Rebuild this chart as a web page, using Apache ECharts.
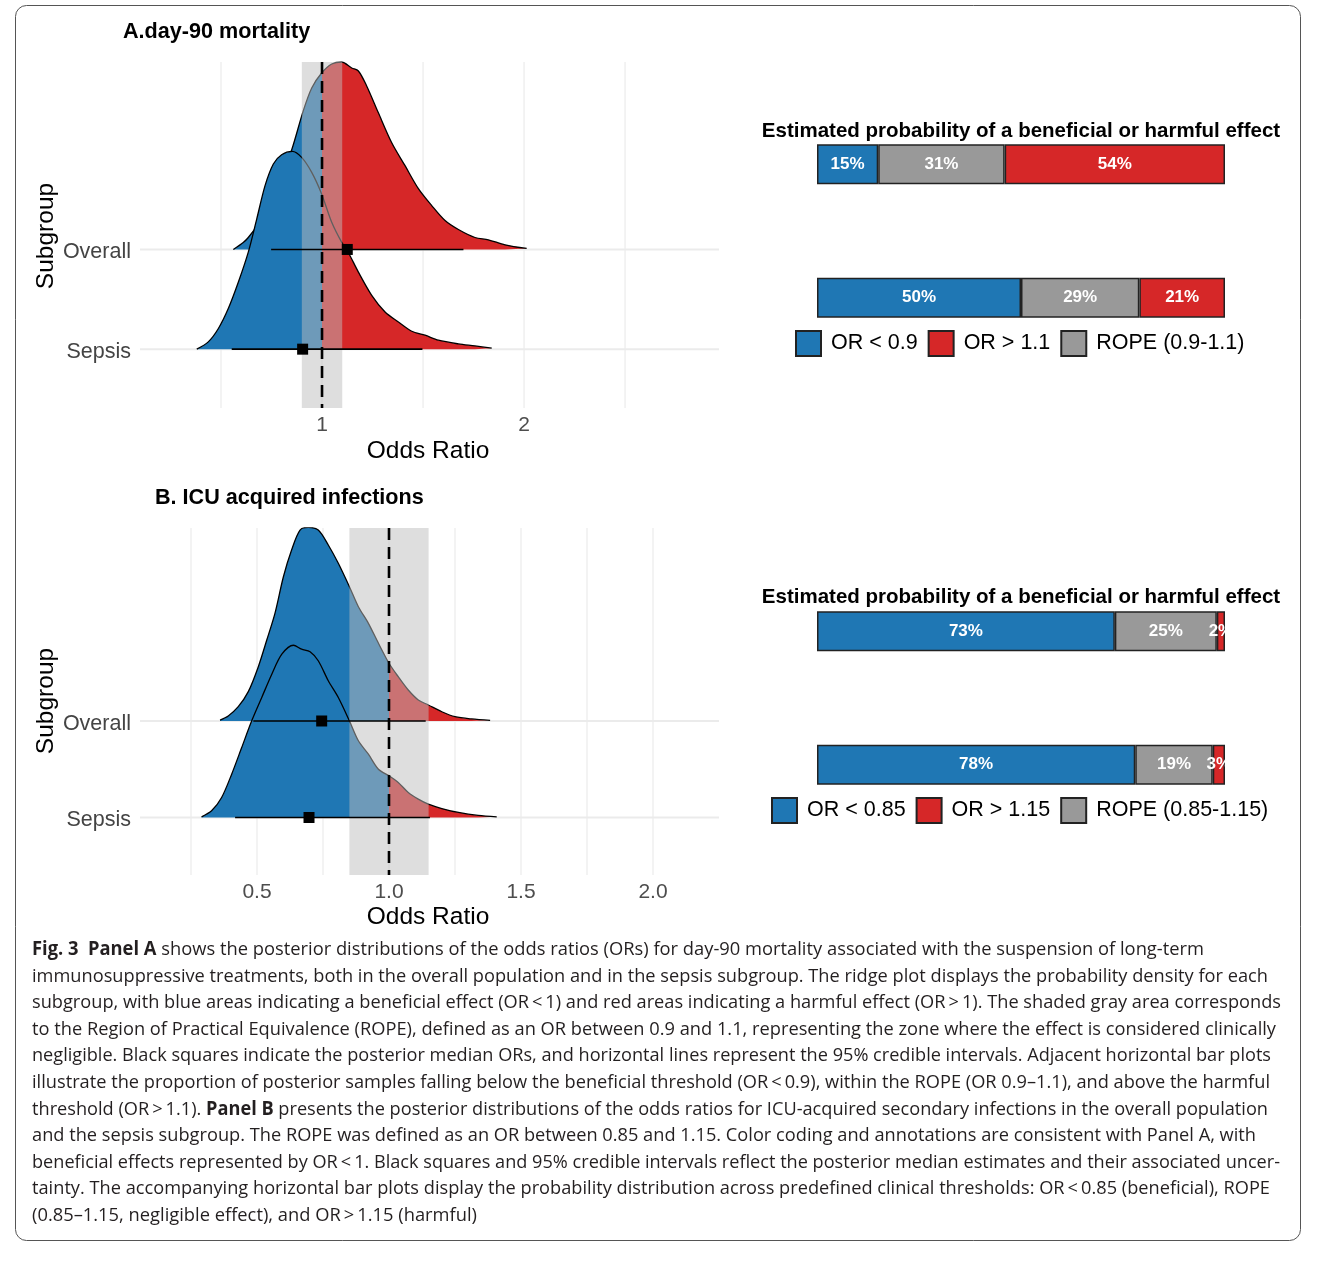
<!DOCTYPE html>
<html>
<head>
<meta charset="utf-8">
<script src="https://cdn.jsdelivr.net/npm/echarts@6/dist/echarts.min.js"></script>
<style>
html,body{margin:0;padding:0;background:#fff;}
#chart{position:absolute;left:0;top:0;width:1326px;height:1262px;}
#caption{position:absolute;left:32px;top:935px;font-family:"Open Sans","Noto Sans",sans-serif;font-size:19px;line-height:26.6px;color:#231f20;}
#caption div{white-space:nowrap;height:26.6px;}
#caption span.ln{display:inline-block;white-space:nowrap;transform-origin:0 0;}
#caption b{font-weight:700;}
</style>
</head>
<body>
<div id="chart"></div>
<div id="caption"></div>
<script>
// ---------------- data ----------------
const subgroups = ['Overall', 'Sepsis'];

// Panel A: day-90 mortality, posterior density of OR (height in ridge units)
const aOverallX = [0.561, 0.610, 0.635, 0.700, 0.750, 0.800, 0.850, 0.907, 0.949, 0.998, 1.048, 1.097, 1.147, 1.180, 1.221, 1.279, 1.345, 1.411, 1.477, 1.543, 1.609, 1.675, 1.757, 1.823, 1.906, 2.013];
const aOverallH = [0.00, 0.07, 0.12, 0.30, 0.50, 0.74, 1.00, 1.39, 1.62, 1.77, 1.86, 1.88, 1.82, 1.79, 1.64, 1.37, 1.07, 0.84, 0.61, 0.44, 0.29, 0.20, 0.12, 0.097, 0.047, 0.01];
const aSepsisX = [0.380, 0.437, 0.487, 0.536, 0.586, 0.635, 0.677, 0.718, 0.759, 0.800, 0.853, 0.899, 0.949, 0.998, 1.048, 1.097, 1.130, 1.180, 1.246, 1.312, 1.378, 1.444, 1.510, 1.576, 1.675, 1.757, 1.840];
const aSepsisH = [0.00, 0.073, 0.207, 0.407, 0.673, 0.973, 1.307, 1.64, 1.857, 1.95, 1.983, 1.923, 1.773, 1.557, 1.273, 1.073, 0.97, 0.773, 0.54, 0.373, 0.273, 0.18, 0.14, 0.09, 0.053, 0.033, 0.01];
const aCiLower = [0.748, 0.553];
const aCiMedian = [1.125, 0.904];
const aCiUpper = [1.700, 1.497];
const aRope = [0.9, 1.1];
const aTicks = [1, 2];
const aGrid = [0.5, 1, 1.5, 2, 2.5];
const aBelow = [15, 50];
const aInRope = [31, 29];
const aAbove = [54, 21];
const aLegend = ['OR < 0.9', 'OR > 1.1', 'ROPE (0.9-1.1)'];

// Panel B: ICU acquired infections
const bOverallX = [0.360, 0.391, 0.429, 0.467, 0.505, 0.537, 0.568, 0.600, 0.631, 0.663, 0.694, 0.732, 0.770, 0.808, 0.850, 0.884, 0.922, 0.960, 1.000, 1.035, 1.073, 1.111, 1.149, 1.200, 1.250, 1.313, 1.383];
const bOverallH = [0.01, 0.052, 0.148, 0.304, 0.563, 0.839, 1.116, 1.495, 1.772, 1.979, 2.007, 1.979, 1.824, 1.634, 1.392, 1.184, 1.012, 0.805, 0.598, 0.459, 0.321, 0.218, 0.166, 0.096, 0.045, 0.021, 0.007];
const bSepsisX = [0.290, 0.328, 0.366, 0.404, 0.442, 0.480, 0.518, 0.556, 0.594, 0.638, 0.669, 0.701, 0.732, 0.770, 0.808, 0.850, 0.884, 0.922, 0.960, 1.000, 1.035, 1.073, 1.111, 1.149, 1.200, 1.263, 1.338, 1.408];
const bSepsisH = [0.007, 0.069, 0.207, 0.449, 0.725, 1.002, 1.244, 1.485, 1.692, 1.785, 1.744, 1.717, 1.624, 1.417, 1.244, 1.002, 0.795, 0.656, 0.500, 0.432, 0.363, 0.259, 0.190, 0.138, 0.093, 0.052, 0.021, 0.007];
const bCiLower = [0.486, 0.417];
const bCiMedian = [0.745, 0.697];
const bCiUpper = [1.139, 1.155];
const bRope = [0.85, 1.15];
const bTicks = [0.5, 1.0, 1.5, 2.0];
const bGrid = [0.25, 0.5, 0.75, 1.0, 1.25, 1.5, 1.75, 2.0];
const bBelow = [73, 78];
const bInRope = [25, 19];
const bAbove = [2, 3];
const bLegend = ['OR < 0.85', 'OR > 1.15', 'ROPE (0.85-1.15)'];

const nullEffect = 1;
const panelTitles = ['A.day-90 mortality', 'B. ICU acquired infections'];
const barTitle = 'Estimated probability of a beneficial or harmful effect';

// ---------------- styling ----------------
const FONT = '"Liberation Sans", Arial, Helvetica, sans-serif';
const BLUE = '#1f77b4', RED = '#d62728', GREY = '#999999';
const ridgeLevel = [2, 1]; // Overall above Sepsis

const series = [];

function splitFill(xs) {
  // hard colour change at the null effect, in the polygon's own x-range
  const o = (nullEffect - xs[0]) / (xs[xs.length - 1] - xs[0]);
  return new echarts.graphic.LinearGradient(0, 0, 1, 0, [
    {offset: 0, color: BLUE}, {offset: o, color: BLUE},
    {offset: o, color: RED}, {offset: 1, color: RED}
  ]);
}

function addRidgePanel(gi, gridVals, rope, ridges, ci) {
  series.push({
    type: 'custom', xAxisIndex: gi, yAxisIndex: gi, z: 1, silent: true,
    data: gridVals.map(v => [v]),
    renderItem: (params, api) => {
      const cs = params.coordSys;
      const x = api.coord([api.value(0), 1])[0];
      return {type: 'line', shape: {x1: x, y1: cs.y, x2: x, y2: cs.y + cs.height},
              style: {stroke: '#ebebeb', lineWidth: 1.2}};
    }
  });
  series.push({
    type: 'custom', xAxisIndex: gi, yAxisIndex: gi, z: 1, silent: true,
    data: ridgeLevel.map(v => [1, v]),
    renderItem: (params, api) => {
      const cs = params.coordSys;
      const y = api.coord([1, api.value(1)])[1];
      return {type: 'line', shape: {x1: cs.x, y1: y, x2: cs.x + cs.width, y2: y},
              style: {stroke: '#ebebeb', lineWidth: 2}};
    }
  });
  ridges.forEach((r, k) => {
    const base = ridgeLevel[k];
    const data = r.x.map((x, i) => [x, base + r.h[i]]);
    series.push({
      type: 'line', xAxisIndex: gi, yAxisIndex: gi, data, smooth: 0.3, symbol: 'none',
      lineStyle: {width: 0, color: 'rgba(0,0,0,0)'},
      areaStyle: {origin: base, opacity: 1, color: splitFill(r.x)}, z: 2 + 2 * k, silent: true
    });
    series.push({
      type: 'line', xAxisIndex: gi, yAxisIndex: gi, data, smooth: 0.3, symbol: 'none',
      lineStyle: {color: '#000', width: 1.3}, z: 3 + 2 * k, silent: true
    });
  });
  series.push({
    type: 'custom', xAxisIndex: gi, yAxisIndex: gi, z: 10, silent: true,
    data: [[rope[0], rope[1], nullEffect]],
    encode: {x: [0, 1, 2]},
    renderItem: (params, api) => {
      const cs = params.coordSys;
      const x0 = api.coord([api.value(0), 1])[0];
      const x1 = api.coord([api.value(1), 1])[0];
      const xn = api.coord([api.value(2), 1])[0];
      return {type: 'group', children: [
        {type: 'rect', shape: {x: x0, y: cs.y, width: x1 - x0, height: cs.height},
         style: {fill: 'rgba(190,190,190,0.5)'}},
        {type: 'line', shape: {x1: xn, y1: cs.y, x2: xn, y2: cs.y + cs.height},
         style: {stroke: '#000', lineWidth: 2.6, lineDash: [12, 7]}}
      ]};
    }
  });
  series.push({
    type: 'custom', xAxisIndex: gi, yAxisIndex: gi, z: 12, silent: true,
    data: ci.lower.map((l, i) => [l, ci.median[i], ci.upper[i], ridgeLevel[i]]),
    encode: {x: [0, 1, 2], y: 3},
    renderItem: (params, api) => {
      const y = api.value(3);
      const a = api.coord([api.value(0), y]);
      const m = api.coord([api.value(1), y]);
      const b = api.coord([api.value(2), y]);
      return {type: 'group', children: [
        {type: 'line', shape: {x1: a[0], y1: a[1], x2: b[0], y2: b[1]}, style: {stroke: '#000', lineWidth: 1.6}},
        {type: 'rect', shape: {x: m[0] - 5.5, y: m[1] - 5.5, width: 11, height: 11}, style: {fill: '#000'}}
      ]};
    }
  });
}

function addBarPanel(gi, names, below, inRope, above) {
  const vals = [below, inRope, above];
  const cols = [BLUE, GREY, RED];
  const nm = [names[0], names[2], names[1]];
  vals.forEach((v, k) => {
    series.push({
      type: 'bar', name: nm[k], xAxisIndex: gi, yAxisIndex: gi, stack: 'p' + gi,
      data: v, barWidth: 40, silent: true,
      itemStyle: {color: cols[k], borderColor: '#222', borderWidth: 1.5},
      label: {show: true, position: 'inside', formatter: '{c}%', color: '#fff',
              fontWeight: 'bold', fontSize: 17, fontFamily: FONT, textBorderWidth: 0}
    });
  });
}

addRidgePanel(0, aGrid, aRope,
  [{x: aOverallX, h: aOverallH}, {x: aSepsisX, h: aSepsisH}],
  {lower: aCiLower, median: aCiMedian, upper: aCiUpper});
addBarPanel(1, aLegend, aBelow, aInRope, aAbove);
addRidgePanel(2, bGrid, bRope,
  [{x: bOverallX, h: bOverallH}, {x: bSepsisX, h: bSepsisH}],
  {lower: bCiLower, median: bCiMedian, upper: bCiUpper});
addBarPanel(3, bLegend, bBelow, bInRope, bAbove);

function ridgeX(gi, min, max, ticks, fmt) {
  return {type: 'value', gridIndex: gi, min, max,
    axisLine: {show: false}, axisTick: {show: false}, splitLine: {show: false},
    axisLabel: {customValues: ticks, formatter: fmt, fontSize: 21, color: '#4d4d4d', margin: 7, fontFamily: FONT}};
}
function ridgeY(gi, min, max) {
  return {type: 'value', gridIndex: gi, min, max,
    axisLine: {show: false}, axisTick: {show: false}, splitLine: {show: false},
    axisLabel: {customValues: ridgeLevel,
      formatter: v => { const s = subgroups[ridgeLevel.indexOf(v)]; return s ? '{g|' + s + '}' : ''; },
      margin: 9,
      rich: {g: {fontSize: 21.5, color: '#444', fontFamily: FONT, padding: [6, 0, 0, 0]}}}};
}
function barX(gi) { return {type: 'value', gridIndex: gi, min: 0, max: 100, show: false}; }
function barY(gi) { return {type: 'category', gridIndex: gi, data: subgroups, inverse: true, show: false}; }

function legend(names, left, top) {
  return {data: names, left, top, orient: 'horizontal', itemWidth: 25, itemHeight: 25, itemGap: 10,
    icon: 'rect', selectedMode: false, padding: 0,
    textStyle: {fontSize: 21.5, color: '#000', fontFamily: FONT, padding: [2, 0, 0, 5]}};
}

function ctext(x, y, text, font, rot) {
  return {type: 'text', x, y, rotation: rot || 0, silent: true,
    style: {text, font, fill: '#000', align: 'center', verticalAlign: 'middle'}};
}
function ltext(x, y, text, font) {
  return {type: 'text', x, y, silent: true,
    style: {text, font, fill: '#000', align: 'left', verticalAlign: 'middle'}};
}

const option = {
  animation: false,
  backgroundColor: '#fff',
  textStyle: {fontFamily: FONT},
  grid: [
    {left: 140, top: 62, width: 579, height: 346},
    {left: 817, top: 97.5, width: 408, height: 267},
    {left: 140, top: 528, width: 579, height: 347},
    {left: 817, top: 564.5, width: 408, height: 267}
  ],
  xAxis: [
    ridgeX(0, 0.099, 2.965, aTicks, v => String(v)),
    barX(1),
    ridgeX(2, 0.0568, 2.25, bTicks, v => v.toFixed(1)),
    barX(3)
  ],
  yAxis: [ridgeY(0, 0.41, 3.88), barY(1), ridgeY(2, 0.404, 4.0), barY(3)],
  legend: [legend(aLegend, 795, 330), legend(bLegend, 771, 797)],
  series,
  graphic: [
    {type: 'rect', silent: true, z: 0, shape: {x: 15.5, y: 5.5, width: 1285, height: 1235, r: 11},
     style: {fill: 'none', stroke: '#555', lineWidth: 1}},
    ltext(123, 32, panelTitles[0], 'bold 21.6px ' + FONT),
    ltext(155, 498, panelTitles[1], 'bold 21.6px ' + FONT),
    ctext(1021, 131, barTitle, 'bold 20.5px ' + FONT),
    ctext(1021, 597, barTitle, 'bold 20.5px ' + FONT),
    ctext(46, 236, 'Subgroup', '24.5px ' + FONT, Math.PI / 2),
    ctext(46, 701, 'Subgroup', '24.5px ' + FONT, Math.PI / 2),
    ctext(428, 451, 'Odds Ratio', '24.5px ' + FONT),
    ctext(428, 917, 'Odds Ratio', '24.5px ' + FONT),
    // panel clipping of the bar labels at the right panel edge
    {type: 'rect', silent: true, z: 100, shape: {x: 1226.5, y: 606, width: 45, height: 50}, style: {fill: '#fff'}},
    {type: 'rect', silent: true, z: 100, shape: {x: 1226.5, y: 739, width: 45, height: 50}, style: {fill: '#fff'}}
  ]
};

const chart = echarts.init(document.getElementById('chart'), null, {renderer: 'canvas'});
try { chart.setOption(option); } catch (e) { console.error(e); }

// ---------------- caption ----------------
const T = '\u2009';
const captionLines = [
  '<b>Fig. 3</b>&nbsp;&nbsp;<b>Panel A</b> shows the posterior distributions of the odds ratios (ORs) for day-90 mortality associated with the suspension of long-term',
  'immunosuppressive treatments, both in the overall population and in the sepsis subgroup. The ridge plot displays the probability density for each',
  'subgroup, with blue areas indicating a beneficial effect (OR' + T + '&lt;' + T + '1) and red areas indicating a harmful effect (OR' + T + '&gt;' + T + '1). The shaded gray area corresponds',
  'to the Region of Practical Equivalence (ROPE), defined as an OR between 0.9 and 1.1, representing the zone where the effect is considered clinically',
  'negligible. Black squares indicate the posterior median ORs, and horizontal lines represent the 95% credible intervals. Adjacent horizontal bar plots',
  'illustrate the proportion of posterior samples falling below the beneficial threshold (OR' + T + '&lt;' + T + '0.9), within the ROPE (OR 0.9–1.1), and above the harmful',
  'threshold (OR' + T + '&gt;' + T + '1.1). <b>Panel B</b> presents the posterior distributions of the odds ratios for ICU-acquired secondary infections in the overall population',
  'and the sepsis subgroup. The ROPE was defined as an OR between 0.85 and 1.15. Color coding and annotations are consistent with Panel A, with',
  'beneficial effects represented by OR' + T + '&lt;' + T + '1. Black squares and 95% credible intervals reflect the posterior median estimates and their associated uncer-',
  'tainty. The accompanying horizontal bar plots display the probability distribution across predefined clinical thresholds: OR' + T + '&lt;' + T + '0.85 (beneficial), ROPE',
  '(0.85–1.15, negligible effect), and OR' + T + '&gt;' + T + '1.15 (harmful)'
];
const captionEnds = [1204, 1268, 1281, 1276, 1271, 1270, 1268, 1256, 1280, 1270, 477];
const cap = document.getElementById('caption');
const spans = captionLines.map(html => {
  const d = document.createElement('div');
  const s = document.createElement('span');
  s.className = 'ln';
  s.innerHTML = html;
  d.appendChild(s);
  cap.appendChild(d);
  return s;
});
function fitCaption() {
  spans.forEach((s, i) => {
    s.style.transform = 'none';
    const w = s.getBoundingClientRect().width;
    const target = captionEnds[i] - 32;
    if (w > 0) s.style.transform = 'scaleX(' + (target / w) + ')';
  });
}
fitCaption();
if (document.fonts && document.fonts.ready) document.fonts.ready.then(fitCaption);
</script>
</body>
</html>
